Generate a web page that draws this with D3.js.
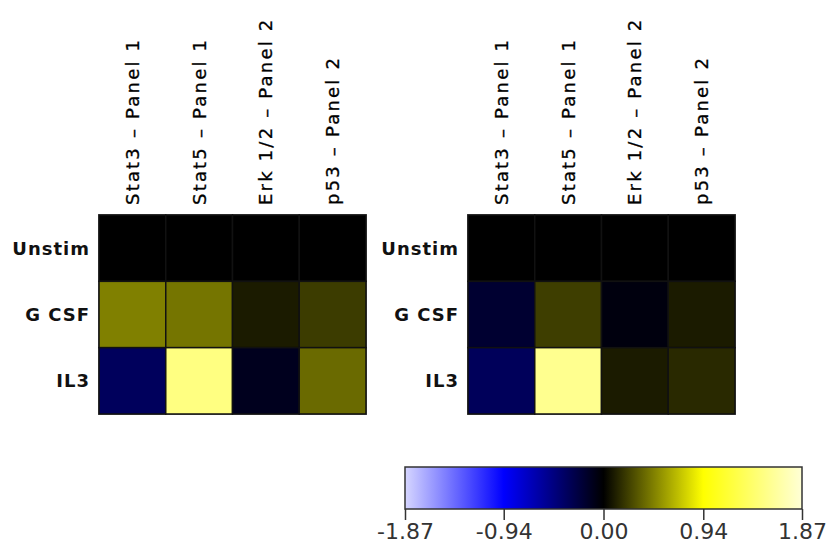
<!DOCTYPE html>
<html>
<head>
<meta charset="utf-8">
<script src="https://cdn.jsdelivr.net/npm/d3@7"></script>
<style>
  body { margin: 0; background: #fff; }
  svg { display: block; }
</style>
</head>
<body>
<div id="chart"></div>
<script>
// datos
var columns = ["Stat3 \u2013 Panel 1", "Stat5 \u2013 Panel 1", "Erk 1/2 \u2013 Panel 2", "p53 \u2013 Panel 2"];
var rows = ["Unstim", "G CSF", "IL3"];
// values per row, one array per panel
var panel1 = [
  [0, 0, 0, 0],
  [0.47, 0.43, 0.10, 0.22],
  [-0.34, 1.50, -0.11, 0.39]
];
var panel2 = [
  [0, 0, 0, 0],
  [-0.18, 0.23, -0.05, 0.10],
  [-0.33, 1.56, 0.10, 0.15]
];
var legendStops = [-1.87, -0.94, 0, 0.94, 1.87];
var legendTicks = ["-1.87", "-0.94", "0.00", "0.94", "1.87"];

var width = 826, height = 553;
var cellTop = 215, cellBottom = 414;

var color = d3.scaleLinear()
  .domain(legendStops)
  .range(["#d6d6ff", "#0000ff", "#000000", "#ffff00", "#ffffd6"])
  .clamp(true);

var svg = d3.select("#chart")
  .append("svg")
  .attr("width", width)
  .attr("height", height);

function drawPanel(data, x0, x1) {
  var xScale = d3.scaleBand().domain(columns).range([x0, x1]);
  var yScale = d3.scaleBand().domain(rows).range([cellTop, cellBottom]);
  var g = svg.append("g");

  // outline
  g.append("rect")
    .attr("x", x0 - 0.5).attr("y", cellTop - 0.5)
    .attr("width", x1 - x0 + 1).attr("height", cellBottom - cellTop + 1)
    .attr("fill", "none").attr("stroke", "#777").attr("stroke-width", 1);

  var cells = [];
  data.forEach(function(r, i) {
    r.forEach(function(v, j) { cells.push({row: rows[i], col: columns[j], v: v}); });
  });
  g.selectAll("rect.cell")
    .data(cells)
    .enter()
    .append("rect")
    .attr("class", "cell")
    .attr("x", function(d) { return xScale(d.col); })
    .attr("y", function(d) { return yScale(d.row); })
    .attr("width", xScale.bandwidth())
    .attr("height", yScale.bandwidth())
    .attr("fill", function(d) { return color(d.v); })
    .attr("stroke", "#111")
    .attr("stroke-width", 1.5);

  // column labels
  g.selectAll("text.col")
    .data(columns)
    .enter()
    .append("text")
    .attr("class", "col")
    .attr("transform", function(d) {
      return "translate(" + (xScale(d) + xScale.bandwidth() / 2 + 6.5) + "," + (cellTop - 10) + ") rotate(-90)";
    })
    .attr("text-anchor", "start")
    .style("font-family", "DejaVu Sans, sans-serif")
    .style("font-size", "18px")
    .style("letter-spacing", "2.2px")
    .attr("fill", "#000")
    .attr("stroke", "#000")
    .attr("stroke-width", 0.3)
    .text(function(d) { return d; });

  // row labels
  g.selectAll("text.row")
    .data(rows)
    .enter()
    .append("text")
    .attr("class", "row")
    .attr("x", x0 - 9)
    .attr("y", function(d) { return yScale(d) + yScale.bandwidth() / 2 + 6.5; })
    .attr("text-anchor", "end")
    .style("font-family", "DejaVu Sans, sans-serif")
    .style("font-weight", "bold")
    .style("font-size", "18px")
    .style("letter-spacing", "1px")
    .attr("fill", "#111")
    .text(function(d) { return d; });
}

drawPanel(panel1, 99, 366);
drawPanel(panel2, 468, 735);

// colour legend
var lx0 = 405, lx1 = 802, ly0 = 467, ly1 = 509;
var lScale = d3.scaleLinear().domain([-1.87, 1.87]).range([lx0, lx1]);
var defs = svg.append("defs");
var grad = defs.append("linearGradient").attr("id", "lgrad");
legendStops.forEach(function(s) {
  grad.append("stop")
    .attr("offset", ((s + 1.87) / 3.74 * 100) + "%")
    .attr("stop-color", color(s));
});
svg.append("rect")
  .attr("x", lx0).attr("y", ly0)
  .attr("width", lx1 - lx0).attr("height", ly1 - ly0)
  .attr("fill", "url(#lgrad)")
  .attr("stroke", "#333").attr("stroke-width", 1.5);

var lAxis = svg.append("g")
  .attr("transform", "translate(0," + ly1 + ")")
  .call(d3.axisBottom(lScale)
    .tickValues(legendStops)
    .tickFormat(function(d, i) { return legendTicks[i]; })
    .tickSize(11)
    .tickPadding(3));
lAxis.select(".domain").remove();
lAxis.selectAll("line").attr("stroke", "#333").attr("stroke-width", 1.5);
lAxis.selectAll("text")
  .style("font-family", "DejaVu Sans, sans-serif")
  .style("font-size", "22px")
  .attr("fill", "#333");
</script>
</body>
</html>
